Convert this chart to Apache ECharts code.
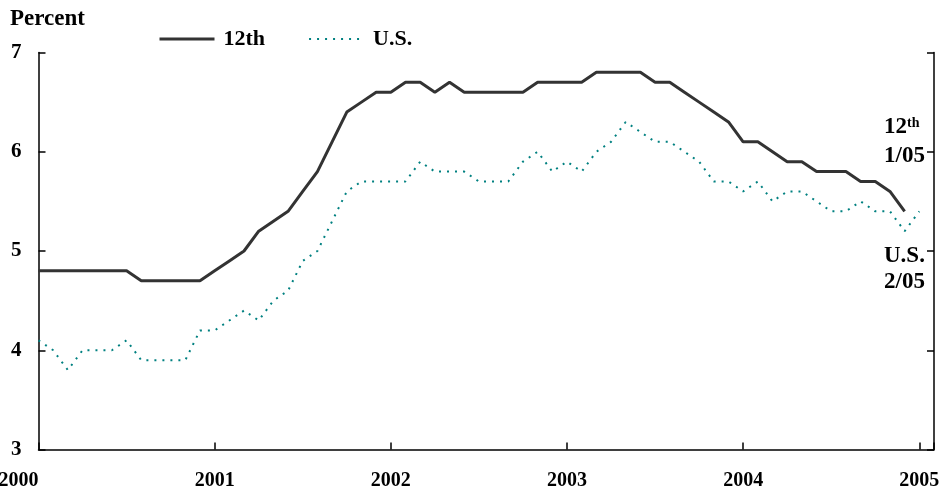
<!DOCTYPE html>
<html>
<head>
<meta charset="utf-8">
<script src="https://cdn.jsdelivr.net/npm/echarts@6/dist/echarts.min.js"></script>
<style>
  html, body { margin: 0; padding: 0; background: #fff; }
  #main { width: 944px; height: 495px; }
</style>
</head>
<body>
<div id="main"></div>
<script>
// months counted from Jan 2000 (0), axis runs to 61
const yearLabels = ['2000', '2001', '2002', '2003', '2004', '2005'];
const yTicks = [3, 4, 5, 6, 7];

// 12th District unemployment rate, percent
const twelfth = [
    4.8, 4.8, 4.8, 4.8, 4.8, 4.8, 4.8, 4.7, 4.7, 4.7, 4.7, 4.7,
    4.8, 4.9, 5.0, 5.2, 5.3, 5.4, 5.6, 5.8, 6.1, 6.4, 6.5, 6.6,
    6.6, 6.7, 6.7, 6.6, 6.7, 6.6, 6.6, 6.6, 6.6, 6.6, 6.7, 6.7,
    6.7, 6.7, 6.8, 6.8, 6.8, 6.8, 6.7, 6.7, 6.6, 6.5, 6.4, 6.3,
    6.1, 6.1, 6.0, 5.9, 5.9, 5.8, 5.8, 5.8, 5.7, 5.7, 5.6, 5.4
];

// U.S. unemployment rate, percent
const us = [
    4.1, 4.0, 3.8, 4.0, 4.0, 4.0, 4.1, 3.9, 3.9, 3.9, 3.9, 4.2,
    4.2, 4.3, 4.4, 4.3, 4.5, 4.6, 4.9, 5.0, 5.3, 5.6, 5.7, 5.7,
    5.7, 5.7, 5.9, 5.8, 5.8, 5.8, 5.7, 5.7, 5.7, 5.9, 6.0, 5.8,
    5.9, 5.8, 6.0, 6.1, 6.3, 6.2, 6.1, 6.1, 6.0, 5.9, 5.7, 5.7,
    5.6, 5.7, 5.5, 5.6, 5.6, 5.5, 5.4, 5.4, 5.5, 5.4, 5.4, 5.2,
    5.4
];

const toPairs = (arr) => arr.map((v, i) => [i, v]);

const font = 'Liberation Serif, Times New Roman, serif';
const chart = echarts.init(document.getElementById('main'), null, { renderer: 'canvas' });

const option = {
    animation: false,
    backgroundColor: '#ffffff',
    grid: {
        left: 38.5,
        right: 10,
        top: 52.5,
        bottom: 45.5,
        outerBoundsMode: 'none',
        containLabel: false
    },
    legend: {
        left: 153,
        top: 23,
        itemWidth: 55,
        itemHeight: 14,
        itemGap: 43,
        data: [
            { name: '12th', lineStyle: { width: 3, color: '#333333' } },
            { name: 'U.S.', lineStyle: { width: 2, color: '#008080', type: [2, 6] } }
        ],
        itemStyle: { opacity: 0 },
        textStyle: {
            fontFamily: font,
            fontWeight: 'bold',
            fontSize: 22,
            color: '#000',
            padding: [0, 0, 0, 4]
        }
    },
    xAxis: {
        type: 'value',
        min: 0,
        max: 61,
        interval: 12,
        splitLine: { show: false },
        axisLine: { lineStyle: { color: '#000', width: 1.5 } },
        axisTick: { inside: true, length: 7, lineStyle: { color: '#000', width: 1.5 } },
        axisLabel: {
            margin: 21,
            fontFamily: font,
            fontWeight: 'bold',
            fontSize: 20,
            color: '#000',
            alignMinLabel: 'right',
            formatter: (v) => (v % 12 === 0 ? yearLabels[v / 12] : '')
        }
    },
    yAxis: [
        {
            type: 'value',
            min: yTicks[0],
            max: yTicks[yTicks.length - 1],
            interval: 1,
            splitLine: { show: false },
            axisLine: { show: true, lineStyle: { color: '#000', width: 1.5 } },
            axisTick: { show: true, inside: true, length: 7, lineStyle: { color: '#000', width: 1.5 } },
            axisLabel: {
                margin: 17,
                fontFamily: font,
                fontWeight: 'bold',
                fontSize: 21,
                color: '#000'
            }
        },
        {
            type: 'value',
            position: 'right',
            min: yTicks[0],
            max: yTicks[yTicks.length - 1],
            interval: 1,
            splitLine: { show: false },
            axisLine: { show: true, lineStyle: { color: '#000', width: 1.5 } },
            axisTick: { show: true, inside: true, length: 7, lineStyle: { color: '#000', width: 1.5 } },
            axisLabel: { show: false }
        }
    ],
    graphic: [
        {
            type: 'text',
            left: 10,
            top: 8,
            style: { text: 'Percent', font: 'bold 23px ' + font, fill: '#000' }
        },
        {
            type: 'text',
            left: 884,
            top: 116,
            style: {
                text: '{a|12}{b|th}',
                rich: {
                    a: { font: 'bold 23px ' + font, fill: '#000' },
                    b: { font: 'bold 14px ' + font, fill: '#000', verticalAlign: 'top', padding: [0, 0, 8, 0] }
                }
            }
        },
        {
            type: 'text',
            left: 884,
            top: 145,
            style: { text: '1/05', font: 'bold 23px ' + font, fill: '#000' }
        },
        {
            type: 'text',
            left: 884,
            top: 245,
            style: { text: 'U.S.', font: 'bold 23px ' + font, fill: '#000' }
        },
        {
            type: 'text',
            left: 884,
            top: 271,
            style: { text: '2/05', font: 'bold 23px ' + font, fill: '#000' }
        }
    ],
    series: [
        {
            name: '12th',
            type: 'line',
            symbol: 'none',
            color: '#333333',
            lineStyle: { color: '#333333', width: 3 },
            data: toPairs(twelfth)
        },
        {
            name: 'U.S.',
            type: 'line',
            symbol: 'none',
            color: '#008080',
            lineStyle: { color: '#008080', width: 2, type: [2, 6] },
            data: toPairs(us)
        }
    ]
};

chart.setOption(option);
</script>
</body>
</html>
